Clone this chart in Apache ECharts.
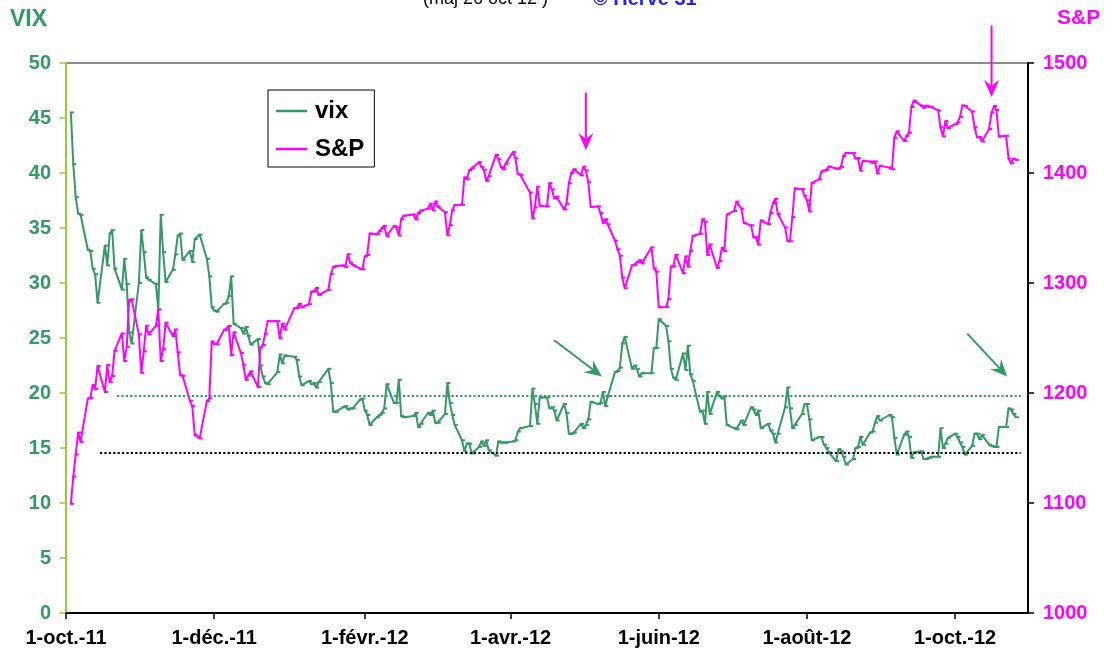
<!DOCTYPE html>
<html>
<head>
<meta charset="utf-8">
<script src="https://cdn.jsdelivr.net/npm/echarts@6/dist/echarts.min.js"></script>
<style>
  html, body { margin: 0; padding: 0; background: #fff; }
  #chart { width: 1112px; height: 656px; }
</style>
</head>
<body>
<div id="chart"></div>
<script>
// trading days, one line per month
const months = ['2011-10','2011-11','2011-12','2012-01','2012-02','2012-03','2012-04',
                '2012-05','2012-06','2012-07','2012-08','2012-09','2012-10'];
const tradingDays = [
  [3,4,5,6,7,10,11,12,13,14,17,18,19,20,21,24,25,26,27,28,31],
  [1,2,3,4,7,8,9,10,11,14,15,16,17,18,21,22,23,25,28,29,30],
  [1,2,5,6,7,8,9,12,13,14,15,16,19,20,21,22,23,27,28,29,30],
  [3,4,5,6,9,10,11,12,13,17,18,19,20,23,24,25,26,27,30,31],
  [1,2,3,6,7,8,9,10,13,14,15,16,17,21,22,23,24,27,28,29],
  [1,2,5,6,7,8,9,12,13,14,15,16,19,20,21,22,23,26,27,28,29,30],
  [2,3,4,5,9,10,11,12,13,16,17,18,19,20,23,24,25,26,27,30],
  [1,2,3,4,7,8,9,10,11,14,15,16,17,18,21,22,23,24,25,29,30,31],
  [1,4,5,6,7,8,11,12,13,14,15,18,19,20,21,22,25,26,27,28,29],
  [2,3,5,6,9,10,11,12,13,16,17,18,19,20,23,24,25,26,27,30,31],
  [1,2,3,6,7,8,9,10,13,14,15,16,17,20,21,22,23,24,27,28,29,30,31],
  [4,5,6,7,10,11,12,13,14,17,18,19,20,21,24,25,26,27,28],
  [1,2,3,4,5,8,9,10,11,12,15,16,17,18,19,22,23,24,25,26]
];

const vix = [
  45.5,40.8,37.8,36.3,36.2,33.0,32.9,31.3,30.8,28.2,33.4,31.6,34.5,34.8,31.3,29.4,32.2,29.9,25.5,24.5,30.0,
  34.8,32.8,30.5,30.3,29.9,27.6,36.2,32.8,30.1,31.2,32.6,34.3,34.5,32.1,32.9,31.9,34.0,34.4,32.2,30.6,27.8,
  27.5,27.4,28.1,28.2,28.8,30.6,26.3,25.9,25.4,26.0,25.2,24.4,24.9,22.5,21.5,20.9,20.8,21.9,23.5,22.7,23.4,
  23.3,23.0,21.5,20.7,21.1,20.8,20.9,20.5,21.0,22.2,20.9,18.3,18.3,18.7,18.8,18.5,18.6,18.6,19.4,19.5,
  18.4,18.0,17.1,17.8,18.0,18.2,18.6,20.8,19.1,19.1,21.2,17.9,17.8,17.9,18.2,16.9,17.2,18.2,18.0,18.4,
  17.3,17.3,18.1,20.9,19.1,18.0,17.1,15.7,14.7,15.4,15.4,14.5,15.1,15.6,15.2,15.7,14.8,14.3,15.6,15.5,15.5,15.5,
  15.6,15.7,16.5,16.8,17.0,20.4,19.0,17.2,19.6,19.6,18.6,18.7,18.4,17.5,19.0,18.2,16.3,16.3,16.4,17.2,
  16.8,17.1,17.6,19.2,19.0,19.1,20.1,18.8,19.7,21.9,22.0,22.3,24.5,25.1,22.2,22.5,22.2,21.5,21.8,21.8,24.1,24.1,
  26.7,26.1,24.7,22.2,21.4,21.2,23.6,22.1,24.3,21.7,21.1,18.3,18.4,17.2,20.1,18.1,20.1,19.7,19.5,19.7,17.1,
  16.8,16.7,17.5,17.1,18.7,18.5,18.0,18.4,16.8,17.2,16.6,16.3,15.5,16.3,18.7,20.5,18.6,16.8,17.1,18.1,19.0,
  19.0,17.6,15.7,16.0,16.0,15.3,15.0,14.6,13.8,14.9,14.7,14.2,13.5,14.0,15.0,15.1,16.0,15.3,16.4,16.5,17.3,17.9,17.5,
  18.0,17.8,15.9,14.4,16.2,16.5,16.0,14.1,14.6,14.7,14.0,14.0,14.1,14.2,14.2,16.8,15.0,15.4,15.9,
  16.3,16.0,15.5,15.1,14.4,15.2,16.3,16.3,15.8,16.2,15.3,15.2,15.1,15.1,16.9,16.9,18.6,18.5,18.1,17.8
];

const sp = [
  1099.2,1124.0,1144.0,1164.0,1155.5,1194.9,1195.5,1207.3,1203.7,1224.6,1200.9,1225.4,1209.9,1215.4,1238.3,1254.2,1229.1,1242.0,1284.6,1285.1,1253.3,
  1218.3,1237.9,1261.2,1253.2,1261.1,1275.9,1229.1,1239.7,1263.9,1251.8,1257.8,1236.9,1216.1,1215.7,1192.9,1188.0,1161.8,1158.7,1192.6,1195.2,1246.9,
  1244.6,1244.3,1257.1,1258.5,1261.0,1234.4,1255.2,1236.5,1225.7,1212.0,1215.8,1219.7,1205.4,1241.3,1243.7,1254.0,1265.3,1265.4,1249.6,1263.0,1257.6,
  1277.1,1277.3,1281.1,1278.0,1280.7,1292.1,1292.5,1295.5,1289.1,1293.7,1308.0,1314.5,1315.4,1316.0,1314.7,1326.1,1318.4,1316.3,1313.0,1312.4,
  1324.1,1325.5,1344.9,1344.3,1347.1,1350.0,1352.0,1342.6,1351.8,1350.5,1343.2,1358.0,1361.2,1362.2,1357.7,1363.5,1365.7,1367.6,1372.2,1366.0,
  1374.1,1369.6,1364.3,1343.4,1352.6,1366.0,1370.9,1371.1,1396.0,1394.3,1402.6,1404.2,1409.8,1405.5,1402.9,1392.8,1397.1,1416.5,1412.5,1405.5,1403.3,1408.5,
  1419.0,1413.4,1399.0,1398.1,1382.2,1358.6,1368.7,1387.6,1370.3,1369.6,1390.8,1385.1,1376.9,1378.5,1366.9,1372.0,1390.7,1400.0,1403.4,1397.9,
  1405.8,1402.3,1391.6,1369.1,1369.6,1363.7,1354.6,1358.0,1353.4,1338.4,1330.7,1324.8,1304.9,1295.2,1316.0,1316.6,1318.9,1320.7,1317.8,1332.4,1313.3,1310.3,
  1278.0,1278.2,1285.5,1315.1,1315.0,1325.7,1308.9,1324.2,1314.9,1329.1,1342.8,1344.8,1358.0,1355.7,1325.5,1335.0,1313.7,1320.0,1331.9,1329.0,1362.2,
  1365.5,1374.0,1367.6,1354.7,1352.5,1341.5,1341.5,1334.8,1356.8,1353.6,1363.7,1372.8,1376.5,1362.7,1350.5,1338.3,1337.9,1360.0,1386.0,1385.3,1379.3,
  1375.1,1365.0,1391.0,1394.2,1401.4,1402.2,1402.8,1405.9,1404.1,1403.9,1405.5,1415.5,1418.2,1418.1,1413.2,1413.5,1402.1,1411.1,1410.4,1409.3,1410.5,1399.5,1406.6,
  1404.9,1403.4,1432.1,1437.9,1429.1,1433.6,1436.6,1460.0,1465.8,1461.2,1459.3,1461.1,1460.3,1460.2,1456.9,1441.6,1433.3,1447.2,1440.7,
  1444.5,1445.8,1451.0,1461.4,1460.9,1455.9,1441.5,1432.6,1432.8,1428.6,1440.1,1454.9,1460.9,1457.3,1433.2,1433.8,1413.1,1408.8,1413.0,1411.9
];

// x axis ticks
const tickDates  = ['2011-10-01','2011-12-01','2012-02-01','2012-04-01','2012-06-01','2012-08-01','2012-10-01'];
const tickLabels = ['1-oct.-11','1-déc.-11','1-févr.-12','1-avr.-12','1-juin-12','1-août-12','1-oct.-12'];
const xStart = '2011-10-01', xEnd = '2012-10-31';

// horizontal reference levels on the VIX scale
const vixLevels = [
  { value: 19.75, from: '2011-10-22', to: '2012-10-28', color: '#339966' },
  { value: 14.57, from: '2011-10-15', to: '2012-10-28', color: '#000000' }
];

// annotation arrows: [date, value] on the axis given by yAxis
const arrows = [
  { yAxis: 1, from: ['2012-05-02', 1473], to: ['2012-05-02', 1421], color: '#ff00ff' },
  { yAxis: 1, from: ['2012-10-16', 1534], to: ['2012-10-16', 1469], color: '#ff00ff' },
  { yAxis: 0, from: ['2012-04-19', 24.8], to: ['2012-05-08T14:00', 21.5], color: '#339966' },
  { yAxis: 0, from: ['2012-10-06', 25.4], to: ['2012-10-22T10:00', 21.5], color: '#339966' }
];

const t = s => +echarts.time.parse(s);
const dates = [];
months.forEach((m, i) => {
  tradingDays[i].forEach(d => dates.push(m + '-' + String(d).padStart(2, '0')));
});
if (dates.length !== vix.length || dates.length !== sp.length) {
  console.error('length mismatch', dates.length, vix.length, sp.length);
}

const tickTimes = tickDates.map(t);
const FONT = 'Liberation Sans, Arial, sans-serif';
const GREEN = '#339966';
const PINK = '#ff00ff';

const chart = echarts.init(document.getElementById('chart'));

chart.setOption({
  animation: false,
  backgroundColor: '#fff',
  textStyle: { fontFamily: FONT },
  title: [
    { text: '(maj 26 oct 12 )', left: 418, top: -15,
      textStyle: { fontSize: 18, fontWeight: 'normal', color: '#000', fontFamily: FONT } },
    { text: '© Hervé 31', left: 588, top: -16,
      textStyle: { fontSize: 20, fontWeight: 'bold', color: '#1f1fff', fontFamily: FONT } },
    { text: 'VIX', left: 5, top: 3,
      textStyle: { fontSize: 23, fontWeight: 'bold', color: GREEN, fontFamily: FONT } },
    { text: 'S&P', left: 1052, top: 3,
      textStyle: { fontSize: 21, fontWeight: 'bold', color: PINK, fontFamily: FONT } }
  ],
  legend: {
    left: 268, top: 90,
    orient: 'vertical',
    icon: 'rect',
    itemWidth: 31, itemHeight: 2.5, itemGap: 14,
    padding: [9, 10, 6, 8],
    borderColor: '#000', borderWidth: 1,
    backgroundColor: '#fff',
    textStyle: { fontSize: 24, fontWeight: 'bold', color: '#000', fontFamily: FONT, padding: [0, 0, 0, 3] },
    data: ['vix', 'S&P']
  },
  grid: {
    left: 66, right: 84, top: 63, bottom: 43,
    show: true, borderColor: '#8c8c8c', borderWidth: 2
  },
  xAxis: {
    type: 'value',
    min: t(xStart), max: t(xEnd),
    axisLine: { lineStyle: { color: '#000', width: 2 } },
    axisTick: { show: true, customValues: tickTimes, length: 6, lineStyle: { color: '#000', width: 1.5 } },
    axisLabel: {
      customValues: tickTimes,
      formatter: function (v) {
        for (let i = 0; i < tickTimes.length; i++) {
          if (Math.abs(tickTimes[i] - v) < 43200000) return tickLabels[i];
        }
        return '';
      },
      color: '#000', fontSize: 20, fontWeight: 'bold', fontFamily: FONT, margin: 15
    },
    splitLine: { show: false }
  },
  yAxis: [
    {
      type: 'value', position: 'left', min: 0, max: 50, interval: 5,
      axisLine: { show: true, lineStyle: { color: '#99cc33', width: 2 } },
      axisTick: { show: true, length: 6, lineStyle: { color: '#99cc33', width: 1.5 } },
      axisLabel: { color: GREEN, fontSize: 20, fontWeight: 'bold', fontFamily: FONT, margin: 15 },
      splitLine: { show: false }
    },
    {
      type: 'value', position: 'right', min: 1000, max: 1500, interval: 100,
      axisLine: { show: true, lineStyle: { color: '#000', width: 2 } },
      axisTick: { show: true, length: 6, lineStyle: { color: '#000', width: 1.5 } },
      axisLabel: { color: PINK, fontSize: 20, fontWeight: 'bold', fontFamily: FONT, margin: 15,
                   formatter: v => String(v) },
      splitLine: { show: false }
    }
  ],
  series: [
    {
      name: 'vix', type: 'line', yAxisIndex: 0,
      data: dates.map((d, i) => [t(d), vix[i]]),
      symbol: 'rect', symbolSize: [4, 2], symbolOffset: [1, 0], showAllSymbol: true,
      lineStyle: { color: GREEN, width: 2 },
      itemStyle: { color: GREEN },
      emphasis: { disabled: true },
      markLine: {
        silent: true, symbol: 'none', label: { show: false },
        data: vixLevels.map(l => [
          { coord: [t(l.from), l.value], lineStyle: { color: l.color, type: 'dotted', width: 2.2 } },
          { coord: [t(l.to), l.value] }
        ])
      }
    },
    {
      name: 'S&P', type: 'line', yAxisIndex: 1,
      data: dates.map((d, i) => [t(d), sp[i]]),
      symbol: 'rect', symbolSize: [4, 2], symbolOffset: [1, 0], showAllSymbol: true,
      lineStyle: { color: PINK, width: 2 },
      itemStyle: { color: PINK },
      emphasis: { disabled: true }
    }
  ]
});

// arrows placed through the axes' own scales
function toPx(yAxis, pt) {
  return chart.convertToPixel({ xAxisIndex: 0, yAxisIndex: yAxis }, [t(pt[0]), pt[1]]);
}
const graphics = [];
arrows.forEach(a => {
  const p0 = toPx(a.yAxis, a.from);
  const p1 = toPx(a.yAxis, a.to);
  const dx = p1[0] - p0[0], dy = p1[1] - p0[1];
  const len = Math.sqrt(dx * dx + dy * dy);
  const ux = dx / len, uy = dy / len;
  const nx = -uy, ny = ux;
  const L = 17, W = 7.5, notch = 6;
  const back = [p1[0] - ux * L, p1[1] - uy * L];
  const mid = [p1[0] - ux * (L - notch), p1[1] - uy * (L - notch)];
  graphics.push({
    type: 'line', silent: true, z: 50,
    shape: { x1: p0[0], y1: p0[1], x2: mid[0], y2: mid[1] },
    style: { stroke: a.color, lineWidth: 2 }
  });
  graphics.push({
    type: 'polygon', silent: true, z: 50,
    shape: { points: [p1, [back[0] + nx * W, back[1] + ny * W], mid, [back[0] - nx * W, back[1] - ny * W]] },
    style: { fill: a.color }
  });
});
chart.setOption({ graphic: graphics });
</script>
</body>
</html>
